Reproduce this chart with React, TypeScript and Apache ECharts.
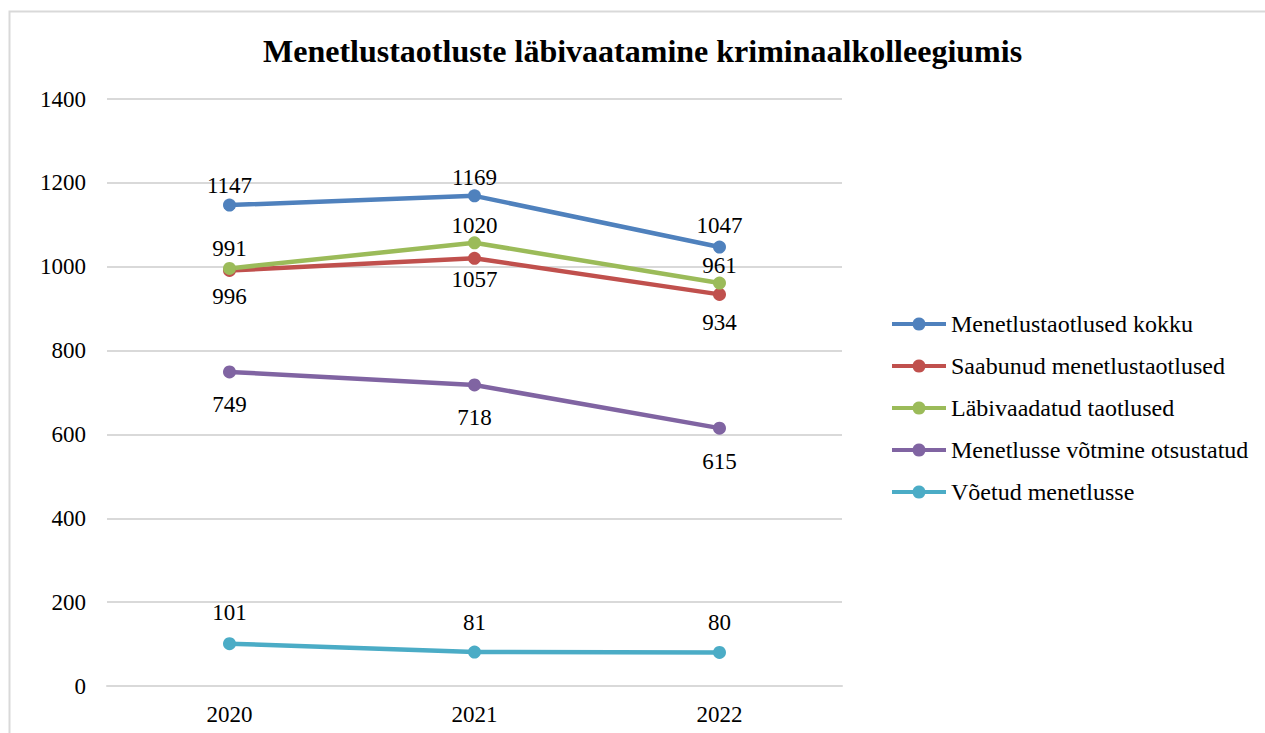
import React, { useEffect, useRef } from "react";
import * as echarts from "echarts";

const title = "Menetlustaotluste läbivaatamine kriminaalkolleegiumis";
const years = ["2020", "2021", "2022"];
const seriesNames = [
  "Menetlustaotlused kokku",
  "Saabunud menetlustaotlused",
  "Läbivaadatud taotlused",
  "Menetlusse võtmine otsustatud",
  "Võetud menetlusse",
];
const kokku = [1147, 1169, 1047];
const saabunud = [991, 1020, 934];
const labivaadatud = [996, 1057, 961];
const otsustatud = [749, 718, 615];
const voetud = [101, 81, 80];
const colors = ["#4f81bd", "#c0504d", "#9bbb59", "#8064a2", "#4bacc6"];

// label placement per point: [position, distance]
const labelPos: [string, number][][] = [
  [["top", 2], ["top", 0], ["top", 4]],
  [["top", 4], ["top", 15], ["bottom", 10]],
  [["bottom", 10], ["bottom", 19], ["top", 0]],
  [["bottom", 15], ["bottom", 15], ["bottom", 15]],
  [["top", 13], ["top", 12], ["top", 12]],
];

const FONT = '"Liberation Serif", "Times New Roman", serif';
const LEGEND_ICON =
  "path://M0,4.5H20.815A6.5,6.5 0 0,1 33.185,4.5H54V8.5H33.185A6.5,6.5 0 0,1 20.815,8.5H0Z";

export default function App() {
  const ref = useRef<HTMLDivElement>(null);
  useEffect(() => {
    if (!ref.current) return;
    const chart = echarts.init(ref.current, undefined, { renderer: "svg" });
    const all = [kokku, saabunud, labivaadatud, otsustatud, voetud];
    chart.setOption({
      animation: false,
      backgroundColor: "#ffffff",
      title: {
        text: title,
        left: 258,
        top: 30,
        textStyle: { fontFamily: FONT, fontSize: 32, fontWeight: "bold", color: "#000" },
      },
      graphic: [
        {
          type: "rect",
          shape: { x: 9.5, y: 11.5, width: 1400, height: 900 },
          style: { fill: "none", stroke: "#d9d9d9", lineWidth: 2 },
          silent: true,
        },
      ],
      legend: {
        orient: "vertical",
        left: 887,
        top: 307,
        itemWidth: 54,
        itemHeight: 13,
        itemGap: 18,
        icon: LEGEND_ICON,
        itemStyle: { borderWidth: 0 },
        textStyle: { fontFamily: FONT, fontSize: 24, lineHeight: 24, color: "#000" },
        data: seriesNames,
      },
      grid: { left: 107, right: 423, top: 99, bottom: 47, containLabel: false },
      xAxis: {
        type: "category",
        data: years,
        boundaryGap: true,
        axisLine: { show: true, lineStyle: { color: "#d9d9d9", width: 2 } },
        axisTick: { show: false },
        axisLabel: { fontFamily: FONT, fontSize: 23, color: "#000", margin: 17 },
      },
      yAxis: {
        type: "value",
        min: 0,
        max: 1400,
        interval: 200,
        axisLine: { show: false },
        axisTick: { show: false },
        splitLine: { lineStyle: { color: "#d9d9d9", width: 2 } },
        axisLabel: {
          fontFamily: FONT,
          fontSize: 23,
          color: "#000",
          margin: 21,
          formatter: (v: number) => String(v),
        },
      },
      series: seriesNames.map((name, i) => ({
        name,
        type: "line",
        data: all[i].map((v, j) => ({
          value: v,
          label: { position: labelPos[i][j][0], distance: labelPos[i][j][1] },
        })),
        color: colors[i],
        symbol: "circle",
        symbolSize: 13,
        lineStyle: { width: 4.5, color: colors[i] },
        itemStyle: { color: colors[i] },
        label: {
          show: true,
          fontFamily: FONT,
          fontSize: 23,
          color: "#000",
        },
      })),
    });
    return () => chart.dispose();
  }, []);
  return (
    <div
      ref={ref}
      style={{ position: "absolute", left: 0, top: 0, width: 1265, height: 733 }}
    />
  );
}
